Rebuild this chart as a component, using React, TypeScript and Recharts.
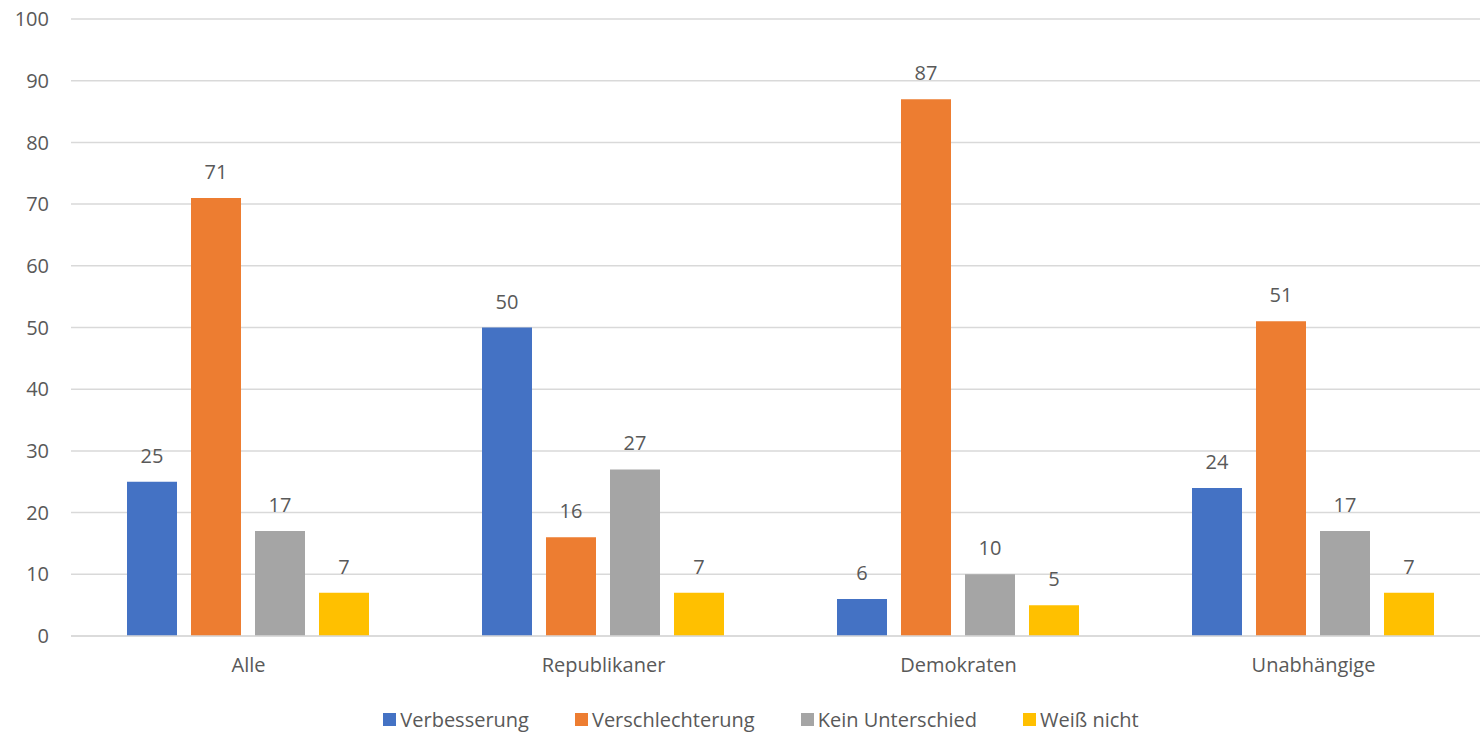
import { BarChart, Bar, XAxis, YAxis, CartesianGrid, Legend, LabelList } from "recharts";

const CATEGORIES = ["Alle", "Republikaner", "Demokraten", "Unabhängige"];
const SERIES = ["Verbesserung", "Verschlechterung", "Kein Unterschied", "Weiß nicht"];
const VERBESSERUNG = [25, 50, 6, 24];
const VERSCHLECHTERUNG = [71, 16, 87, 51];
const KEIN_UNTERSCHIED = [17, 27, 10, 17];
const WEISS_NICHT = [7, 7, 5, 7];
const Y_TICKS = [0, 10, 20, 30, 40, 50, 60, 70, 80, 90, 100];

const COLORS = ["#4472C4", "#ED7D31", "#A5A5A5", "#FFC000"];
const TEXT = "#595959";
const FONT = "'Open Sans', sans-serif";

const values = [VERBESSERUNG, VERSCHLECHTERUNG, KEIN_UNTERSCHIED, WEISS_NICHT];
const data = CATEGORIES.map((name, i) => {
  const row: Record<string, string | number> = { name };
  SERIES.forEach((s, j) => (row[s] = values[j][i]));
  return row;
});

function renderLegend() {
  return (
    <div
      style={{
        display: "flex",
        justifyContent: "center",
        gap: 46,
        paddingLeft: 31,
        transform: "translateY(10px)",
        fontFamily: FONT,
        fontSize: 20,
        color: TEXT,
      }}
    >
      {SERIES.map((s, i) => (
        <div key={s} style={{ display: "flex", alignItems: "center", gap: 4 }}>
          <div style={{ width: 13, height: 13, background: COLORS[i] }} />
          <span>{s}</span>
        </div>
      ))}
    </div>
  );
}

export default function App() {
  return (
    <div style={{ position: "absolute", left: 0, top: 0, width: 1480, height: 732, overflow: "hidden", background: "#fff" }}>
      <BarChart
        width={1500}
        height={732}
        data={data}
        margin={{ top: 19, right: 9, left: 0, bottom: 0 }}
        barCategoryGap={56}
        barGap={14}
      >
        <CartesianGrid stroke="#D9D9D9" strokeWidth={1.5} vertical={false} />
        <XAxis
          dataKey="name"
          height={60}
          tickLine={false}
          tickSize={0}
          tickMargin={22}
          axisLine={{ stroke: "#D9D9D9", strokeWidth: 1.5 }}
          tick={{ fill: TEXT, fontSize: 20, fontFamily: FONT }}
        />
        <YAxis
          width={71}
          domain={[0, 100]}
          ticks={Y_TICKS}
          tickLine={false}
          tickSize={0}
          tickMargin={22}
          axisLine={false}
          tick={{ fill: TEXT, fontSize: 20, fontFamily: FONT }}
        />
        <Legend verticalAlign="bottom" height={36} content={renderLegend} />
        {SERIES.map((s, i) => (
          <Bar key={s} dataKey={s} fill={COLORS[i]} isAnimationActive={false}>
            <LabelList dataKey={s} position="top" offset={19} fill={TEXT} fontSize={20} fontFamily={FONT} />
          </Bar>
        ))}
      </BarChart>
    </div>
  );
}
